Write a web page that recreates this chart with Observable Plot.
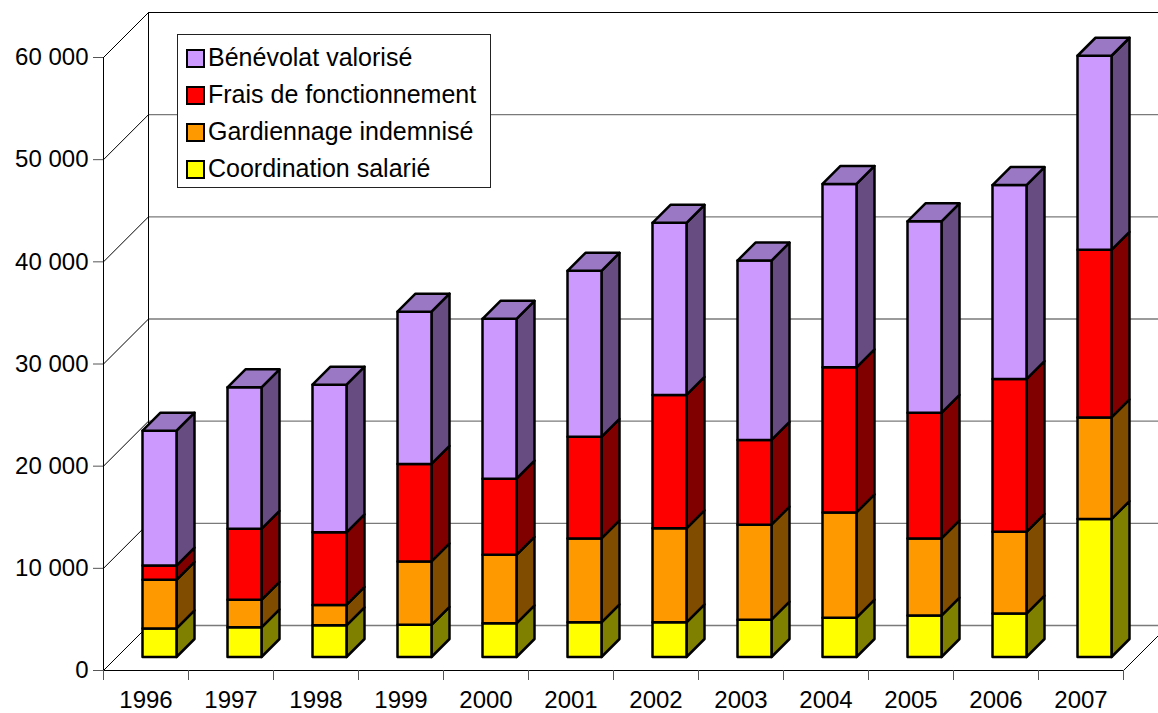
<!DOCTYPE html>
<html>
<head>
<meta charset="utf-8">
<script src="https://cdn.jsdelivr.net/npm/d3@7"></script>
<script src="https://cdn.jsdelivr.net/npm/@observablehq/plot@0.6"></script>
<style>
  html, body { margin: 0; padding: 0; background: #fff; overflow: hidden; }
  #wrap { position: relative; width: 1158px; height: 713px; overflow: hidden; font-family: "Liberation Sans", Arial, sans-serif; }
  #legend { position: absolute; left: 177px; top: 34px; width: 312px; height: 148px; border: 1px solid #222; background: #fff; padding-top: 4px; box-sizing: content-box; }
  #legend .row { height: 37px; line-height: 37px; font-size: 25px; color: #000; position: relative; white-space: nowrap; }
  #legend .sw { position: absolute; left: 8px; top: 10px; width: 15px; height: 15px; border: 2px solid #000; }
  #legend .lb { position: absolute; left: 30px; top: 0; }
</style>
</head>
<body>
<div id="wrap"></div>
<script>
// ---- data ----
const years = ["1996","1997","1998","1999","2000","2001","2002","2003","2004","2005","2006","2007"];
const coordination = [2800, 2900, 3100, 3150, 3300, 3400, 3400, 3650, 3850, 4050, 4250, 13500];
const gardiennage  = [4750, 2700, 2000, 6200, 6700, 8200, 9200, 9300, 10300, 7550, 8000, 9950];
const frais        = [1400, 6950, 7100, 9550, 7450, 9950, 13050, 8300, 14200, 12300, 14950, 16400];
const benevolat    = [13200, 13850, 14450, 14900, 15650, 16250, 16850, 17550, 17950, 18750, 18990, 19000];
const seriesNames  = ["Coordination salarié", "Gardiennage indemnisé", "Frais de fonctionnement", "Bénévolat valorisé"];
const seriesValues = [coordination, gardiennage, frais, benevolat];
const frontColors  = ["#FFFF00", "#FF9900", "#FF0000", "#CC99FF"];
const sideColors   = ["#808000", "#804C00", "#800000", "#664C80"];
const topColors    = ["#C4C400", "#C47500", "#C40000", "#9A78C4"];
const yTicks = [0, 10000, 20000, 30000, 40000, 50000, 60000];

// ---- layout ----
const W = 1158, H = 713, mL = 103, mR = 35, mT = 57, mB = 43;
const nCat = years.length, yMax = 60000;
const pxX = (W - mL - mR) / nCat;       // px per category unit
const pxY = (H - mT - mB) / yMax;       // px per value unit
const wallDepth = 45, dFront = 13.5, dBack = 31.5, halfBar = 0.2;
const P = (xu, v, d) => ({x: xu + d / pxX, y: v + d / pxY});

// ---- faces ----
const faces = seriesNames.map(() => ({front: [], side: [], top: []}));
years.forEach((yr, i) => {
  let base = 0;
  seriesValues.forEach((vals, s) => {
    const y0 = base, y1 = base + vals[i];
    base = y1;
    const xa = i + 0.5 - halfBar, xb = i + 0.5 + halfBar;
    const id = yr + "-" + s;
    [P(xa, y0, dFront), P(xb, y0, dFront), P(xb, y1, dFront), P(xa, y1, dFront)]
      .forEach(p => faces[s].front.push({...p, id}));
    [P(xb, y0, dFront), P(xb, y1, dFront), P(xb, y1, dBack), P(xb, y0, dBack)]
      .forEach(p => faces[s].side.push({...p, id}));
    if (s === seriesValues.length - 1) {
      [P(xa, y1, dFront), P(xb, y1, dFront), P(xb, y1, dBack), P(xa, y1, dBack)]
        .forEach(p => faces[s].top.push({...p, id}));
    }
  });
});

const faceOpts = (fill) => ({x: "x", y: "y", z: "id", fill, stroke: "#000", strokeWidth: 2.5,
  strokeLinejoin: "round", curve: "linear-closed"});

const fmt = d => d3.format(",")(d).replace(/,/g, " ");
const dxu = wallDepth / pxX, dyu = wallDepth / pxY;

const marks = [
  // back wall gridlines
  Plot.ruleY(yTicks.slice(0, -1), {y: d => d, x1: 0, x2: nCat + 1, dx: wallDepth, dy: -wallDepth, stroke: "#7a7a7a", strokeWidth: 1.3}),
  Plot.ruleY([yMax], {y: d => d, x1: 0, x2: nCat + 1, dx: wallDepth, dy: -wallDepth, stroke: "#000", strokeWidth: 1}),
  // back-left vertical edge
  Plot.ruleX([0], {x: d => d, y1: 0, y2: yMax, dx: wallDepth, dy: -wallDepth, stroke: "#000", strokeWidth: 1}),
  // left wall diagonals
  Plot.link(yTicks, {x1: 0, y1: d => d, x2: dxu, y2: d => d + dyu, stroke: "#000", strokeWidth: 1}),
  // floor right edge
  Plot.link([nCat], {x1: d => d, y1: 0, x2: d => d + dxu, y2: dyu, stroke: "#000", strokeWidth: 1}),
  // front edges
  Plot.ruleY([0], {x1: 0, x2: nCat, stroke: "#000", strokeWidth: 1}),
  Plot.ruleX([0], {y1: 0, y2: yMax, stroke: "#000", strokeWidth: 1}),
];
seriesNames.forEach((n, s) => marks.push(Plot.line(faces[s].side, faceOpts(sideColors[s]))));
seriesNames.forEach((n, s) => marks.push(Plot.line(faces[s].front, faceOpts(frontColors[s]))));
seriesNames.forEach((n, s) => { if (faces[s].top.length) marks.push(Plot.line(faces[s].top, faceOpts(topColors[s]))); });
marks.push(
  Plot.axisY({ticks: yTicks, tickFormat: fmt, tickSize: 10, tickPadding: 5, fontSize: 24, label: null, stroke: "#555"}),
  Plot.axisX({ticks: d3.range(nCat + 1), tickFormat: () => "", tickSize: 10, label: null, stroke: "#555"}),
  Plot.axisX({ticks: d3.range(nCat).map(i => i + 0.5), tickFormat: d => years[Math.floor(d)], tickSize: 0, tickPadding: 20, fontSize: 24, label: null})
);

const chart = Plot.plot({
  width: W, height: H,
  marginLeft: mL, marginRight: mR, marginTop: mT, marginBottom: mB,
  x: {domain: [0, nCat], axis: null},
  y: {domain: [0, yMax], axis: null},
  style: {fontFamily: "'Liberation Sans', Arial, sans-serif", fontSize: "24px", color: "#000", background: "#fff"},
  marks
});
const wrap = document.getElementById("wrap");
wrap.appendChild(chart);

// legend (top series first)
const legend = document.createElement("div");
legend.id = "legend";
for (let s = seriesNames.length - 1; s >= 0; s--) {
  const row = document.createElement("div");
  row.className = "row";
  const sw = document.createElement("span");
  sw.className = "sw";
  sw.style.background = frontColors[s];
  const lb = document.createElement("span");
  lb.className = "lb";
  lb.textContent = seriesNames[s];
  row.appendChild(sw); row.appendChild(lb);
  legend.appendChild(row);
}
wrap.appendChild(legend);
</script>
</body>
</html>
